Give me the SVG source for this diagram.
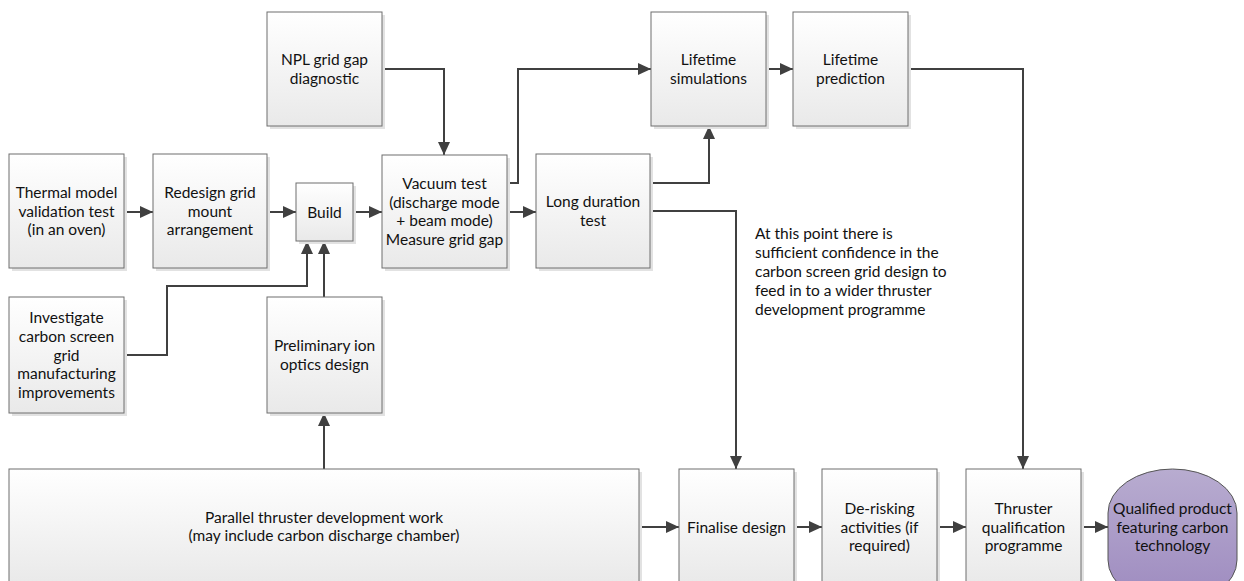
<svg xmlns="http://www.w3.org/2000/svg" width="1244" height="581" viewBox="0 0 1244 581">
<defs>
<linearGradient id="boxg" x1="0" y1="0" x2="0" y2="1"><stop offset="0" stop-color="#ffffff"/><stop offset="1" stop-color="#e9e9e9"/></linearGradient>
<linearGradient id="ovalg" x1="0" y1="0" x2="0" y2="1"><stop offset="0" stop-color="#b8acd0"/><stop offset="1" stop-color="#9d8abf"/></linearGradient>
<marker id="arr" markerUnits="userSpaceOnUse" markerWidth="13" markerHeight="12" refX="13" refY="6" orient="auto"><path d="M0,0 L13,6 L0,12 z" fill="#404040"/></marker>
<style>
.box{fill:url(#boxg);stroke:#6e6e6e;stroke-width:1}
.sh{fill:#e2e2e2}
.t{font-family:Lato,"Liberation Sans",sans-serif;font-size:15.5px;fill:#111111;text-anchor:middle}
.a{font-family:Lato,"Liberation Sans",sans-serif;font-size:15.5px;fill:#111111}
.ca{fill:none;stroke:#404040;stroke-width:2;marker-end:url(#arr)}
</style>
</defs>
<rect width="1244" height="581" fill="#ffffff"/>
<g id="connectors">
<path class="ca" d="M124,212 H153"/>
<path class="ca" d="M267,212 H296"/>
<path class="ca" d="M353,212 H382"/>
<path class="ca" d="M507,212 H536"/>
<path class="ca" d="M382,69 H444 V155"/>
<path class="ca" d="M507,183 H518 V69 H651"/>
<path class="ca" d="M650,183 H709 V126"/>
<path class="ca" d="M650,211 H736 V469"/>
<path class="ca" d="M766,69 H793"/>
<path class="ca" d="M908,69 H1023 V469"/>
<path class="ca" d="M124,355 H167 V286 H307 V241"/>
<path class="ca" d="M324,297 V241"/>
<path class="ca" d="M324,469 V413"/>
<path class="ca" d="M639,527 H679"/>
<path class="ca" d="M794,527 H822"/>
<path class="ca" d="M937,527 H966"/>
<path class="ca" d="M1081,527 H1108"/>
</g>
<g id="thermal"><rect class="sh" x="12" y="157" width="115" height="114"/><rect class="box" x="9" y="154" width="115" height="114"/>
<text class="t"><tspan x="66.5" y="197.8">Thermal model</tspan><tspan x="66.5" y="216.5">validation test</tspan><tspan x="66.5" y="235.2">(in an oven)</tspan></text></g>
<g id="redesign"><rect class="sh" x="156" y="157" width="114" height="114"/><rect class="box" x="153" y="154" width="114" height="114"/>
<text class="t"><tspan x="210" y="197.8">Redesign grid</tspan><tspan x="210" y="216.5">mount</tspan><tspan x="210" y="235.2">arrangement</tspan></text></g>
<g id="build"><rect class="sh" x="299" y="186" width="57" height="58"/><rect class="box" x="296" y="183" width="57" height="58"/>
<text class="t" x="324.5" y="217.5">Build</text></g>
<g id="npl"><rect class="sh" x="270" y="15" width="115" height="114"/><rect class="box" x="267" y="12" width="115" height="114"/>
<text class="t"><tspan x="324.5" y="65.2">NPL grid gap</tspan><tspan x="324.5" y="83.9">diagnostic</tspan></text></g>
<g id="vacuum"><rect class="sh" x="385" y="158" width="125" height="113"/><rect class="box" x="382" y="155" width="125" height="113"/>
<text class="t"><tspan x="444.5" y="188.9">Vacuum test</tspan><tspan x="444.5" y="207.6">(discharge mode</tspan><tspan x="444.5" y="226.3">+ beam mode)</tspan><tspan x="444.5" y="245">Measure grid gap</tspan></text></g>
<g id="longduration"><rect class="sh" x="539" y="157" width="114" height="114"/><rect class="box" x="536" y="154" width="114" height="114"/>
<text class="t"><tspan x="593" y="207.2">Long duration</tspan><tspan x="593" y="225.9">test</tspan></text></g>
<g id="lifesim"><rect class="sh" x="654" y="15" width="115" height="114"/><rect class="box" x="651" y="12" width="115" height="114"/>
<text class="t"><tspan x="708.5" y="65.2">Lifetime</tspan><tspan x="708.5" y="83.9">simulations</tspan></text></g>
<g id="lifepred"><rect class="sh" x="796" y="15" width="115" height="114"/><rect class="box" x="793" y="12" width="115" height="114"/>
<text class="t"><tspan x="850.5" y="65.2">Lifetime</tspan><tspan x="850.5" y="83.9">prediction</tspan></text></g>
<g id="investigate"><rect class="sh" x="12" y="300" width="115" height="116"/><rect class="box" x="9" y="297" width="115" height="116"/>
<text class="t"><tspan x="66.5" y="323.1">Investigate</tspan><tspan x="66.5" y="341.8">carbon screen</tspan><tspan x="66.5" y="360.5">grid</tspan><tspan x="66.5" y="379.2">manufacturing</tspan><tspan x="66.5" y="397.9">improvements</tspan></text></g>
<g id="preliminary"><rect class="sh" x="270" y="300" width="115" height="116"/><rect class="box" x="267" y="297" width="115" height="116"/>
<text class="t"><tspan x="324.5" y="351.2">Preliminary ion</tspan><tspan x="324.5" y="369.9">optics design</tspan></text></g>
<g id="parallel"><rect class="sh" x="12" y="472" width="630" height="116"/><rect class="box" x="9" y="469" width="630" height="116"/>
<text class="t"><tspan x="324" y="522.7">Parallel thruster development work</tspan><tspan x="324" y="541.4">(may include carbon discharge chamber)</tspan></text></g>
<g id="finalise"><rect class="sh" x="682" y="472" width="115" height="116"/><rect class="box" x="679" y="469" width="115" height="116"/>
<text class="t" x="736.5" y="532.5">Finalise design</text></g>
<g id="derisking"><rect class="sh" x="825" y="472" width="115" height="116"/><rect class="box" x="822" y="469" width="115" height="116"/>
<text class="t"><tspan x="879.5" y="513.8">De-risking</tspan><tspan x="879.5" y="532.5">activities (if</tspan><tspan x="879.5" y="551.2">required)</tspan></text></g>
<g id="thruster"><rect class="sh" x="969" y="472" width="115" height="116"/><rect class="box" x="966" y="469" width="115" height="116"/>
<text class="t"><tspan x="1023.5" y="513.8">Thruster</tspan><tspan x="1023.5" y="532.5">qualification</tspan><tspan x="1023.5" y="551.2">programme</tspan></text></g>
<g id="qualified"><rect x="1108" y="469" width="129" height="135" rx="64.5" ry="44" fill="url(#ovalg)" stroke="#555555" stroke-width="1"/>
<text class="t"><tspan x="1172.5" y="513.8">Qualified product</tspan><tspan x="1172.5" y="532.5">featuring carbon</tspan><tspan x="1172.5" y="551.2">technology</tspan></text></g>
<g id="note">
<text class="a"><tspan x="755" y="238.5">At this point there is</tspan><tspan x="755" y="257.5">sufficient confidence in the</tspan><tspan x="755" y="276.5">carbon screen grid design to</tspan><tspan x="755" y="295.5">feed in to a wider thruster</tspan><tspan x="755" y="314.5">development programme</tspan></text></g>
</svg>
